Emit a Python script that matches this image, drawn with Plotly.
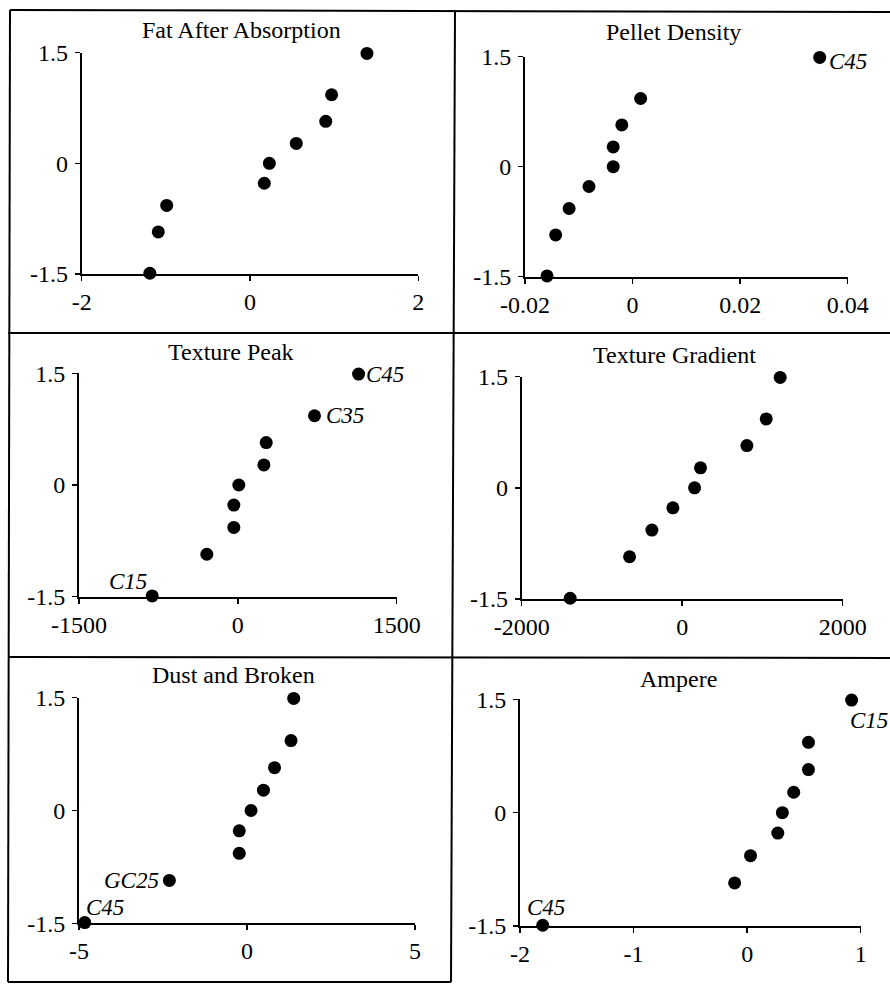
import plotly.graph_objects as go

# ---------------- data ----------------
normal_scores = [-1.49, -0.93, -0.57, -0.27, 0.0, 0.27, 0.57, 0.93, 1.49]

titles = ["Fat After Absorption", "Pellet Density", "Texture Peak",
          "Texture Gradient", "Dust and Broken", "Ampere"]

fat_after_absorption = [-1.19, -1.09, -0.99, 0.17, 0.23, 0.55, 0.90, 0.97, 1.39]
pellet_density = [-0.0159, -0.0143, -0.0118, -0.0081, -0.0036, -0.0036, -0.0020, 0.0015, 0.0348]
texture_peak = [-809, -293, -38, -38, 9, 246, 268, 724, 1140]
texture_gradient = [-1396, -656, -378, -116, 154, 228, 806, 1047, 1221]
dust_and_broken = [-4.83, -2.31, -0.23, -0.23, 0.12, 0.49, 0.82, 1.31, 1.39]
ampere = [-1.80, -0.11, 0.03, 0.27, 0.31, 0.41, 0.54, 0.54, 0.92]

fat_labels = ["", "", "", "", "", "", "", "", ""]
pellet_labels = ["", "", "", "", "", "", "", "", "C45"]
peak_labels = ["C15", "", "", "", "", "", "", "C35", "C45"]
gradient_labels = ["", "", "", "", "", "", "", "", ""]
dust_labels = ["C45", "GC25", "", "", "", "", "", "", ""]
ampere_labels = ["C45", "", "", "", "", "", "", "", "C15"]

y_tickvals = [-1.5, 0, 1.5]
y_ticktext = ["-1.5", "0", "1.5"]

x_tickvals = [
    [-2, 0, 2],
    [-0.02, 0, 0.02, 0.04],
    [-1500, 0, 1500],
    [-2000, 0, 2000],
    [-5, 0, 5],
    [-2, -1, 0, 1],
]
x_ticktext = [
    ["-2", "0", "2"],
    ["-0.02", "0", "0.02", "0.04"],
    ["-1500", "0", "1500"],
    ["-2000", "0", "2000"],
    ["-5", "0", "5"],
    ["-2", "-1", "0", "1"],
]

panel_x = [fat_after_absorption, pellet_density, texture_peak,
           texture_gradient, dust_and_broken, ampere]
panel_labels = [fat_labels, pellet_labels, peak_labels,
                gradient_labels, dust_labels, ampere_labels]

# ---------------- layout geometry (pixels) ----------------
W, H = 890, 984
# plot areas: (left, right, top, bottom)
areas = [
    (81.7, 418.3, 52.7, 274.0),
    (525.0, 847.7, 56.7, 276.7),
    (79.0, 396.7, 373.3, 596.7),
    (521.7, 842.7, 376.7, 599.0),
    (79.0, 415.0, 697.7, 923.3),
    (520.0, 860.7, 699.3, 926.0),
]
# title centres (x, y) in pixels
title_pos = [(241, 30), (673, 32), (231, 352), (674, 355), (233, 675), (678, 679)]

# label placement style: (panel, label) -> (xanchor, xshift, yshift)
label_style = {
    (1, "C45"): ("left", 7, -4),
    (2, "C45"): ("left", 5, 0),
    (2, "C35"): ("left", 9, 0),
    (2, "C15"): ("right", -3, 14),
    (4, "GC25"): ("right", -8, 0),
    (4, "C45"): ("left", -1, 15),
    (5, "C15"): ("left", -4, -20),
    (5, "C45"): ("center", 3, 18),
}

FONT = "Liberation Serif, Times New Roman, serif"
FS = 24
FS_LAB = 23

fig = go.Figure()
layout = dict(
    width=W, height=H, autosize=False,
    margin=dict(l=0, r=0, t=0, b=0, pad=0, autoexpand=False),
    paper_bgcolor="white", plot_bgcolor="white",
    showlegend=False,
    font=dict(family=FONT, size=FS, color="black"),
)
annotations = []
shapes = []

for i in range(6):
    n = i + 1
    xa = "x" if n == 1 else f"x{n}"
    ya = "y" if n == 1 else f"y{n}"
    xkey = "xaxis" if n == 1 else f"xaxis{n}"
    ykey = "yaxis" if n == 1 else f"yaxis{n}"
    l, r, t, b = areas[i]
    xdom = [l / W, r / W]
    ydom = [1 - b / H, 1 - t / H]
    xr = [x_tickvals[i][0], x_tickvals[i][-1]]

    fig.add_trace(go.Scatter(
        x=panel_x[i], y=normal_scores, mode="markers",
        marker=dict(size=13, color="black"),
        xaxis=xa, yaxis=ya, cliponaxis=False, hoverinfo="skip",
    ))

    common = dict(showgrid=False, zeroline=False, showline=True,
                  linecolor="black", linewidth=2, ticks="outside",
                  ticklen=5, tickwidth=1.5, tickcolor="black",
                  tickfont=dict(family=FONT, size=FS, color="black"),
                  tickmode="array", fixedrange=True, automargin=False)
    layout[xkey] = dict(common, domain=xdom, range=xr, anchor=ya,
                        tickvals=x_tickvals[i], ticktext=x_ticktext[i],
                        ticklabelstandoff=0)
    layout[ykey] = dict(common, domain=ydom, range=[-1.5, 1.5], anchor=xa,
                        tickvals=y_tickvals, ticktext=y_ticktext,
                        ticklabelstandoff=2)

    # overlay axes giving the inner half of crossing ticks
    ox = 6 + 2 * i + 1
    oy = 6 + 2 * i + 2
    layout[f"xaxis{ox}"] = dict(overlaying=xa, anchor=ya, side="bottom",
                                range=xr, showgrid=False, zeroline=False,
                                showline=False, showticklabels=False,
                                ticks="inside", ticklen=5, tickwidth=1.5,
                                tickcolor="black", tickmode="array",
                                tickvals=x_tickvals[i], fixedrange=True,
                                automargin=False)
    layout[f"yaxis{oy}"] = dict(overlaying=ya, anchor=xa, side="left",
                                range=[-1.5, 1.5], showgrid=False, zeroline=False,
                                showline=False, showticklabels=False,
                                ticks="inside", ticklen=5, tickwidth=1.5,
                                tickcolor="black", tickmode="array",
                                tickvals=y_tickvals, fixedrange=True,
                                automargin=False)

    tx, ty = title_pos[i]
    annotations.append(dict(text=titles[i], xref="paper", yref="paper",
                            x=tx / W, y=1 - ty / H, xanchor="center",
                            yanchor="middle", showarrow=False,
                            font=dict(family=FONT, size=FS, color="black")))

    for xv, yv, lab in zip(panel_x[i], normal_scores, panel_labels[i]):
        if not lab:
            continue
        anc, xs, ys = label_style[(i, lab)]
        annotations.append(dict(text=f"<i>{lab}</i>", x=xv, y=yv, xref=xa, yref=ya,
                                xanchor=anc, yanchor="middle", xshift=xs, yshift=ys,
                                showarrow=False,
                                font=dict(family=FONT, size=FS_LAB, color="black")))

# frame lines of the grid
line = dict(color="black", width=2)
frame = [
    (10, 10, 890, 12),      # top
    (10, 10, 8, 982),       # left
    (455, 10, 451, 982),    # middle vertical
    (8, 333, 890, 333),     # first horizontal divider
    (8, 657, 890, 658),     # second horizontal divider
    (8, 982, 451, 982),     # bottom (left cell only)
]
for x0, y0, x1, y1 in frame:
    shapes.append(dict(type="line", xref="paper", yref="paper",
                       x0=x0 / W, y0=1 - y0 / H, x1=x1 / W, y1=1 - y1 / H,
                       line=line))

layout["annotations"] = annotations
layout["shapes"] = shapes
fig.update_layout(**layout)
fig.write_html("out.html",
               config={"displayModeBar": False, "staticPlot": True},
               post_script="document.body.style.margin='0';"
                           "document.body.style.overflow='hidden';")
